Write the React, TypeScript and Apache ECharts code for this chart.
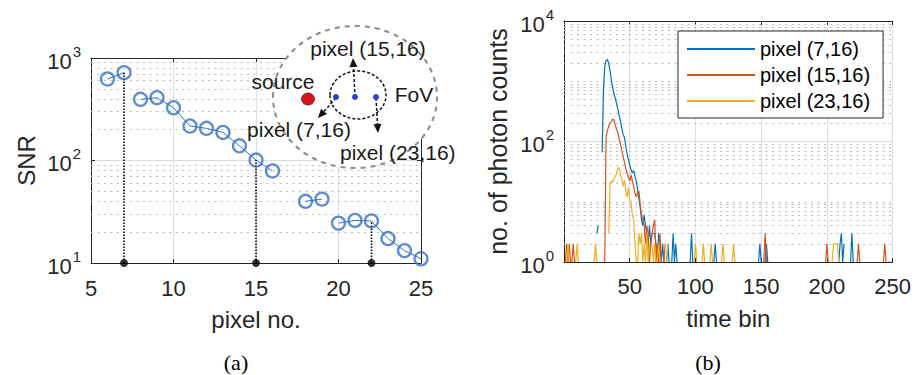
import React, { useEffect, useRef } from 'react';
import * as echarts from 'echarts';

// ---------- (a) SNR vs pixel ----------
const pixelNo = [6, 7, 8, 9, 10, 11, 12, 13, 14, 15, 16, 18, 19, 20, 21, 22, 23, 24, 25];
const snr = [624, 719, 395, 410, 327, 217, 206, 188, 139, 101, 79, 40, 42, 24.5, 26, 25.7, 17.3, 13.2, 11];
const lineSegments = [[6, 7], [8, 16], [18, 19], [20, 25]];
const stemPixels = [7, 15, 22];
const snrMinorTicks = [20, 30, 40, 50, 60, 70, 80, 90, 200, 300, 400, 500, 600, 700, 800, 900];

// ---------- (b) photon counts vs time bin ----------
const legendNames = ['pixel (7,16)', 'pixel (15,16)', 'pixel (23,16)'];
const countsPixel7 = [
  0, 0, 1, 0, 0, 0, 0, 1, 0, 0, 0, 0, 0, 0, 1, 0, 0, 0, 0, 0, 0, 0, 0, 0, 3,
  4, 0, 0, 66, 700, 1750, 2200, 2300, 2000, 1500, 1050, 800, 620, 520, 430, 340, 270, 215, 165, 130, 115, 85, 62, 50, 40,
  34, 30, 33, 26, 22, 16, 11, 8, 5, 4, 6, 4, 3, 2, 4, 2, 3, 3, 3, 2, 1, 3, 2, 1, 2,
  1, 0, 1, 2, 1, 0, 1, 3, 1, 2, 1, 0, 0, 1, 0, 0, 1, 0, 0, 1, 1, 3, 1, 0, 0,
  0, 0, 0, 1, 0, 0, 0, 1, 0, 0, 0, 0, 1, 1, 2, 1, 0, 0, 0, 0, 0, 1, 0, 0, 0,
  0, 0, 0, 0, 0, 1, 0, 0, 0, 0, 0, 0, 1, 0, 0, 0, 0, 0, 0, 0, 0, 0, 1, 2, 1,
  0, 1, 1, 2, 1, 0, 0, 0, 0, 0, 1, 0, 0, 0, 0, 0, 0, 1, 0, 0, 0, 0, 0, 0, 0,
  0, 0, 0, 0, 1, 0, 0, 0, 0, 0, 0, 0, 0, 1, 0, 0, 0, 0, 0, 0, 0, 0, 0, 1, 0,
  0, 0, 0, 0, 0, 0, 0, 0, 1, 2, 3, 1, 2, 0, 1, 0, 0, 1, 3, 1, 0, 0, 0, 0, 0,
  0, 0, 0, 0, 0, 0, 0, 1, 0, 0, 0, 0, 0, 0, 0, 0, 0, 0, 0, 0, 0, 1, 1, 0, 1,
];
const countsPixel15 = [
  1, 2, 1, 2, 1, 1, 2, 1, 0, 0, 1, 0, 0, 0, 0, 0, 1, 0, 0, 0, 0, 0, 0, 0, 0,
  0, 0, 0, 0, 1, 1, 120, 150, 180, 200, 215, 235, 225, 185, 160, 140, 110, 90, 70, 56, 45, 36, 30, 25, 22,
  28, 22, 18, 14, 12, 14, 15, 9, 6, 5, 4, 2, 4, 3, 1, 2, 3, 4, 5, 1, 2, 1, 3, 1, 0,
  1, 2, 0, 1, 0, 1, 0, 0, 1, 0, 0, 1, 0, 0, 0, 1, 0, 0, 0, 0, 0, 0, 1, 0, 0,
  0, 0, 1, 0, 0, 0, 0, 0, 0, 1, 0, 0, 0, 0, 0, 0, 0, 1, 0, 0, 0, 0, 0, 0, 1,
  0, 0, 0, 0, 0, 0, 0, 0, 1, 0, 0, 0, 0, 0, 0, 0, 0, 1, 0, 0, 0, 0, 0, 0, 0,
  0, 1, 3, 1, 0, 0, 0, 0, 0, 0, 0, 0, 1, 0, 0, 0, 0, 0, 0, 0, 1, 0, 0, 0, 0,
  0, 0, 0, 0, 0, 0, 0, 1, 0, 0, 0, 0, 0, 0, 0, 0, 0, 0, 0, 0, 0, 0, 0, 1, 2,
  1, 0, 0, 0, 0, 0, 0, 0, 0, 0, 0, 0, 0, 0, 1, 0, 0, 0, 0, 0, 0, 0, 1, 2, 1,
  0, 0, 0, 0, 1, 0, 0, 0, 0, 0, 0, 0, 0, 1, 0, 0, 0, 1, 2, 1, 0, 0, 0, 0, 0,
];
const countsPixel23 = [
  1, 1, 2, 1, 0, 0, 0, 0, 1, 2, 1, 0, 0, 0, 0, 0, 1, 0, 0, 0, 0, 1, 1, 2, 1,
  0, 0, 0, 0, 0, 0, 0, 0, 3, 20, 22, 21, 24, 26, 30, 37, 36, 28, 24, 18, 23, 15, 12, 17, 11,
  10, 6, 5, 2, 1, 1, 3, 2, 3, 1, 2, 1, 3, 1, 2, 0, 2, 1, 2, 1, 1, 2, 1, 0, 1,
  0, 0, 1, 2, 0, 0, 1, 0, 0, 1, 0, 0, 0, 1, 0, 0, 0, 1, 0, 0, 1, 0, 0, 1, 2,
  1, 0, 0, 0, 1, 2, 1, 0, 0, 0, 1, 2, 1, 0, 0, 0, 0, 0, 1, 1, 2, 1, 0, 0, 0,
  0, 0, 1, 2, 1, 0, 0, 0, 0, 0, 0, 0, 0, 1, 0, 0, 0, 0, 0, 1, 0, 0, 0, 0, 0,
  0, 0, 0, 0, 0, 0, 1, 0, 0, 0, 0, 0, 0, 0, 0, 0, 1, 0, 0, 0, 0, 0, 0, 0, 0,
  0, 0, 0, 0, 0, 0, 0, 0, 0, 1, 0, 0, 0, 0, 0, 0, 0, 0, 0, 0, 0, 0, 0, 0, 0,
  0, 0, 0, 1, 2, 2, 2, 2, 1, 0, 0, 0, 0, 0, 0, 0, 0, 0, 0, 0, 0, 1, 0, 0, 0,
  0, 0, 0, 0, 0, 0, 0, 0, 0, 1, 0, 0, 0, 0, 0, 0, 0, 0, 0, 1, 0, 0, 0, 0, 0,
];
const countMinorTicks = [
  2, 3, 4, 5, 6, 7, 8, 9, 10, 20, 30, 40, 50, 60, 70, 80, 90,
  200, 300, 400, 500, 600, 700, 800, 900, 1000, 2000, 3000, 4000, 5000, 6000, 7000, 8000, 9000,
];
const countMajorGrid = [100];

const FONT = "'Liberation Sans', Arial, Helvetica, sans-serif";
const AX = '#262626';
const BLUE = '#0072BD';
const ORANGE = '#D95319';
const YELLOW = '#EDB120';
const SNR_BLUE = '#3570c4';

const richLog = {
  b: { fontSize: 22, fontFamily: FONT, color: AX, padding: [6, 0, 0, 0] },
  s: { fontSize: 15, fontFamily: FONT, color: AX, padding: [0, 0, 14, 1] },
};
const logFmt = (even: boolean) => (v: number) => {
  const e = Math.round(Math.log10(v));
  if (even && e % 2 !== 0) return '';
  return `{b|10}{s|${e}}`;
};

function arrow(x1: number, y1: number, x2: number, y2: number) {
  const dx = x2 - x1, dy = y2 - y1;
  const L = Math.sqrt(dx * dx + dy * dy);
  const ux = dx / L, uy = dy / L;
  const hl = 9, hw = 4;
  const bx = x2 - ux * hl, by = y2 - uy * hl;
  return [
    { type: 'line', z: 101, shape: { x1, y1, x2: bx, y2: by }, style: { stroke: '#111', lineWidth: 1.5, lineDash: [3, 2] } },
    {
      type: 'polygon', z: 101,
      shape: { points: [[x2, y2], [bx - uy * hw, by + ux * hw], [bx + uy * hw, by - ux * hw]] },
      style: { fill: '#111' },
    },
  ];
}

function insetText(text: string, x: number, y: number, align = 'center') {
  return { type: 'text', z: 102, x, y, style: { text, fontSize: 21, fontFamily: FONT, fill: '#1a1a1a', align, verticalAlign: 'middle' } };
}

function buildOption() {
  const axisLine = { show: true, lineStyle: { color: AX, width: 1 } };
  const tick = { show: true, inside: true, length: 4, lineStyle: { color: AX } };
  const tickLabel = { fontSize: 22, fontFamily: FONT, color: AX };
  const nameStyle = { fontSize: 24, fontFamily: FONT, color: AX };
  const major = { show: true, lineStyle: { color: '#dedede', width: 1 } };
  const minorLine = { color: '#bdbdbd', width: 1, type: [2, 4.5] };

  const segSeries = lineSegments.map(([a, b]) => ({
    type: 'line', xAxisIndex: 0, yAxisIndex: 0, symbol: 'none', z: 3,
    lineStyle: { color: SNR_BLUE, width: 1 },
    data: pixelNo.map((p, i) => [p, snr[i]]).filter(([p]) => p >= a && p <= b),
  }));
  const stemSeries = stemPixels.map((p) => ({
    type: 'line', xAxisIndex: 0, yAxisIndex: 0, symbol: 'none', z: 3,
    lineStyle: { color: '#000', width: 1.6, type: [1.5, 1.5] },
    data: [[p, 10], [p, snr[pixelNo.indexOf(p)]]],
  }));
  const countSets = [countsPixel7, countsPixel15, countsPixel23];
  const colors = [BLUE, ORANGE, YELLOW];
  const countSeries = countSets.map((arr, k) => ({
    type: 'line', name: legendNames[k], xAxisIndex: 2, yAxisIndex: 2, symbol: 'none', z: 3,
    lineStyle: { color: colors[k], width: 1.2 }, itemStyle: { color: colors[k] },
    data: arr.map((c, i) => [i + 1, c > 0 ? c : null]),
  }));

  return {
    animation: false,
    backgroundColor: '#fff',
    grid: [
      { left: 91, top: 58, width: 330, height: 205 },
      { left: 564, top: 21, width: 330, height: 241 },
    ],
    xAxis: [
      {
        gridIndex: 0, type: 'value', min: 5, max: 25, interval: 5, position: 'bottom',
        axisLine, axisTick: tick, axisLabel: { ...tickLabel, margin: 14 }, splitLine: major,
        name: 'pixel no.', nameLocation: 'middle', nameGap: 44, nameTextStyle: nameStyle,
      },
      {
        gridIndex: 0, type: 'value', min: 5, max: 25, interval: 5, position: 'top',
        axisLine, axisTick: tick, axisLabel: { show: false }, splitLine: { show: false },
      },
      {
        gridIndex: 1, type: 'value', min: 0, max: 250, interval: 50, position: 'bottom',
        axisLine, axisTick: tick,
        axisLabel: { ...tickLabel, margin: 13, formatter: (v: number) => (v === 0 ? '' : String(v)) },
        splitLine: major,
        name: 'time bin', nameLocation: 'middle', nameGap: 44, nameTextStyle: nameStyle,
      },
      {
        gridIndex: 1, type: 'value', min: 0, max: 250, interval: 50, position: 'top',
        axisLine, axisTick: tick, axisLabel: { show: false }, splitLine: { show: false },
      },
    ],
    yAxis: [
      {
        gridIndex: 0, type: 'log', logBase: 10, min: 10, max: 1000, position: 'left',
        axisLine, axisTick: tick,
        axisLabel: { margin: 10, formatter: logFmt(false), rich: richLog },
        splitLine: major,
        name: 'SNR', nameLocation: 'middle', nameGap: 53, nameRotate: 90, nameTextStyle: nameStyle,
      },
      {
        gridIndex: 0, type: 'log', logBase: 10, min: 10, max: 1000, position: 'right',
        axisLine, axisTick: tick, axisLabel: { show: false }, splitLine: { show: false },
      },
      {
        gridIndex: 1, type: 'log', logBase: 10, min: 1, max: 10000, position: 'left',
        axisLine, axisTick: { show: false },
        axisLabel: { margin: 10, formatter: logFmt(true), rich: richLog },
        splitLine: { show: false },
        name: 'no. of photon counts', nameLocation: 'middle', nameGap: 54, nameRotate: 90,
        nameTextStyle: { ...nameStyle, fontSize: 25 },
      },
      {
        gridIndex: 1, type: 'log', logBase: 10, min: 1, max: 10000, position: 'right',
        axisLine, axisTick: { show: false }, axisLabel: { show: false }, splitLine: { show: false },
      },
    ],
    legend: {
      orient: 'vertical', left: 678, top: 31, padding: [5, 13, 4, 9],
      itemWidth: 68, itemHeight: 2, itemGap: 0, icon: 'rect',
      backgroundColor: '#fff', borderColor: AX, borderWidth: 1, borderRadius: 0,
      textStyle: { fontSize: 20, lineHeight: 26, fontFamily: FONT, color: '#000' },
      data: legendNames, selectedMode: false,
    },
    series: [
      {
        type: 'line', xAxisIndex: 0, yAxisIndex: 0, data: [], symbol: 'none', silent: true, z: 1,
        markLine: {
          silent: true, z: 1, symbol: ['none', 'none'], label: { show: false },
          lineStyle: minorLine, data: snrMinorTicks.map((v) => ({ yAxis: v })),
        },
      },
      ...segSeries,
      ...stemSeries,
      {
        type: 'scatter', xAxisIndex: 0, yAxisIndex: 0, symbol: 'circle', symbolSize: 13, z: 4,
        itemStyle: { color: 'rgba(0,0,0,0)', borderColor: SNR_BLUE, borderWidth: 2.3 },
        data: pixelNo.map((p, i) => [p, snr[i]]),
      },
      {
        type: 'scatter', xAxisIndex: 0, yAxisIndex: 0, symbol: 'circle', symbolSize: 8, z: 5,
        itemStyle: { color: '#000' },
        data: stemPixels.map((p) => [p, 10]),
      },
      {
        type: 'line', xAxisIndex: 2, yAxisIndex: 2, data: [], symbol: 'none', silent: true, z: 1,
        markLine: {
          silent: true, z: 1, symbol: ['none', 'none'], label: { show: false },
          data: [
            ...countMinorTicks.map((v) => ({ yAxis: v, lineStyle: minorLine })),
            ...countMajorGrid.map((v) => ({ yAxis: v, lineStyle: { color: '#dedede', width: 1, type: 'solid' } })),
          ],
        },
      },
      ...countSeries,
    ],
    graphic: [
      {
        type: 'ellipse', z: 100, shape: { cx: 355, cy: 97, rx: 82, ry: 71 },
        style: { fill: '#fff', stroke: '#8a8a8a', lineWidth: 2, lineDash: [5, 5] },
      },
      {
        type: 'ellipse', z: 101, shape: { cx: 358, cy: 95, rx: 28, ry: 24 },
        style: { fill: 'none', stroke: '#111', lineWidth: 1.5, lineDash: [3, 2] },
      },
      ...arrow(355, 97, 353, 58),
      ...arrow(336, 98, 318, 118),
      ...arrow(376, 98, 378, 133),
      { type: 'circle', z: 102, shape: { cx: 336, cy: 97, r: 3 }, style: { fill: '#2a3ee0' } },
      { type: 'circle', z: 102, shape: { cx: 355, cy: 97, r: 3 }, style: { fill: '#2a3ee0' } },
      { type: 'circle', z: 102, shape: { cx: 376, cy: 97, r: 3 }, style: { fill: '#2a3ee0' } },
      {
        type: 'ellipse', z: 102, shape: { cx: 308, cy: 99, rx: 6.5, ry: 6 },
        style: { fill: '#d01818', stroke: '#7a1010', lineWidth: 0.8 },
      },
      insetText('pixel (15,16)', 368, 48),
      insetText('source', 283, 81),
      insetText('FoV', 414, 94),
      insetText('pixel (7,16)', 299, 129),
      insetText('pixel (23,16)', 340, 152, 'left'),
      {
        type: 'text', z: 102, x: 236, y: 362,
        style: { text: '(a)', fontSize: 22, fontFamily: "'Liberation Serif', 'Times New Roman', serif", fill: '#000', align: 'center', verticalAlign: 'middle' },
      },
      {
        type: 'text', z: 102, x: 708, y: 362,
        style: { text: '(b)', fontSize: 22, fontFamily: "'Liberation Serif', 'Times New Roman', serif", fill: '#000', align: 'center', verticalAlign: 'middle' },
      },
    ],
  };
}

export default function App() {
  const ref = useRef<HTMLDivElement>(null);
  useEffect(() => {
    if (!ref.current) return;
    const chart = echarts.init(ref.current, undefined, { renderer: 'svg' });
    chart.setOption(buildOption() as any);
    return () => chart.dispose();
  }, []);
  return (
    <div
      ref={ref}
      style={{ position: 'fixed', left: 0, top: 0, width: 914, height: 375, background: '#fff' }}
    />
  );
}
